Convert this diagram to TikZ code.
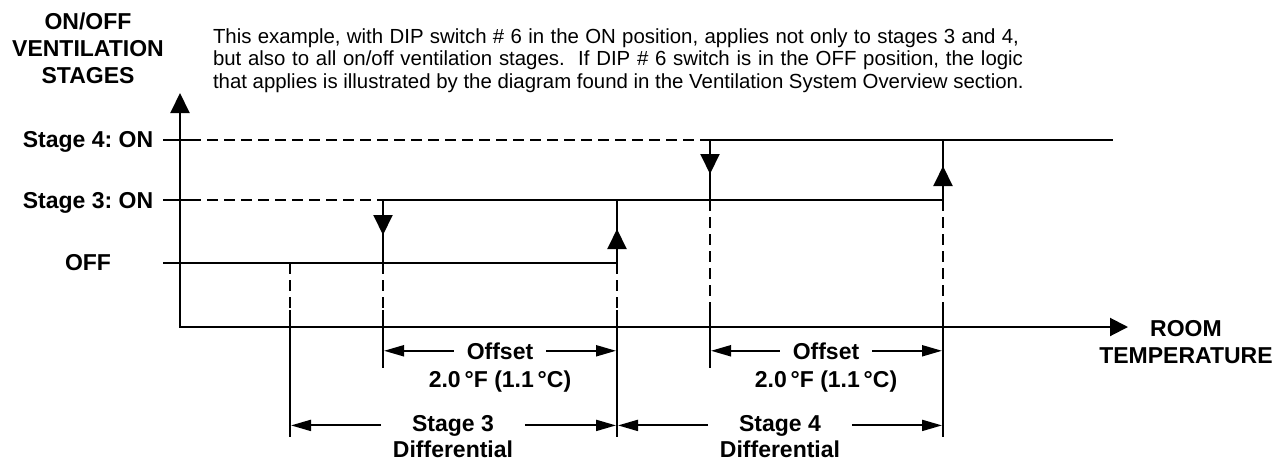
\documentclass[tikz,border=0pt]{standalone}
\usepackage{fontspec}
\setmainfont{Liberation Sans}
\usetikzlibrary{arrows.meta}
\frenchspacing
\begin{document}
\begin{tikzpicture}[x=1pt,y=-1pt,line width=2pt,
  lbl/.style={font=\fontsize{23}{27}\selectfont\bfseries,inner sep=0pt,anchor=base},
  body/.style={font=\fontsize{20.4}{22}\selectfont,inner sep=0pt,anchor=base west},
  dsh/.style={dash pattern=on 11pt off 6pt},
  solidline/.style={line cap=rect},
  bigtip/.style={-{Triangle[length=20pt,width=19pt]}},
  dimtip/.style={-{Triangle[length=20pt,width=11pt]}},
]
\useasboundingbox (0,0) rectangle (1287,461);

% key x positions
\coordinate (v290) at (290,0);
\coordinate (v383) at (383,0);
\coordinate (v617) at (617,0);
\coordinate (v710) at (710,0);
\coordinate (v943) at (943,0);

% header / body text
\node[lbl] (h1) at (88,29) {ON/OFF};
\node[lbl] (h2) at (88,56) {VENTILATION};
\node[lbl] (h3) at (88,83) {STAGES};

\node[body] (b1) at (212,43) {\makebox[806pt][s]{This example, with DIP switch \# 6 in the ON position, applies not only to stages 3 and 4,}};
\node[body] (b2) at (212,65.5) {\makebox[810pt][s]{but also to all on/off ventilation stages.\ \ If DIP \# 6 switch is in the OFF position, the logic}};
\node[body] (b3) at (212,88) {that applies is illustrated by the diagram found in the Ventilation System Overview section.};

% axes
\draw[{Triangle[length=20pt,width=19pt]}-{Triangle[length=18pt,width=18pt]}] (180,93) -- (180,327) -- (1128,327);
\node[lbl] (rt1) at (1186,336) {ROOM};
\node[lbl] (rt2) at (1186,363) {TEMPERATURE};

% stage labels
\node[lbl] (s4) at (88,147) {Stage 4: ON};
\node[lbl] (s3) at (88,208) {Stage 3: ON};
\node[lbl] (off) at (88,270) {OFF};

% horizontal levels
\draw (163,140) -- (190,140);
\draw[dsh] (190,140) -- (710,140);
\draw[solidline] (710,140) -- (1112,140);
\draw (163,200) -- (190,200);
\draw[dsh] (190,200) -- (383,200);
\draw[solidline] (383,200) -- (943,200);
\draw (163,263) -- (617,263);

% transitions
\draw[solidline] (383,200) -- (383,263);
\draw[bigtip] (383,212) -- (383,235);
\draw[solidline] (617,263) -- (617,200);
\draw[bigtip] (617,251) -- (617,229);
\draw[solidline] (710,140) -- (710,200);
\draw[bigtip] (710,152) -- (710,174);
\draw[solidline] (943,200) -- (943,140);
\draw[bigtip] (943,188) -- (943,166);

% extension lines
\draw[dsh] (290,263) -- (290,310);  \draw (290,310) -- (290,437);
\draw[dsh] (383,263) -- (383,310);  \draw (383,310) -- (383,368);
\draw[dsh] (617,263) -- (617,310);  \draw (617,310) -- (617,437);
\draw[dsh] (710,200) -- (710,310);  \draw (710,310) -- (710,368);
\draw[dsh] (943,200) -- (943,310);  \draw (943,310) -- (943,437);

% offset dimensions
\node[lbl] (o1) at (500,359) {Offset};
\node[lbl] (o1b) at (500,387) {2.0\,°F (1.1\,°C)};
\draw[dimtip] ([xshift=-12pt]o1.west) -- ([xshift=1pt]o1.west -| v383);
\draw[dimtip] ([xshift=12pt]o1.east) -- ([xshift=-1pt]o1.east -| v617);

\node[lbl] (o2) at (826,359) {Offset};
\node[lbl] (o2b) at (826,387) {2.0\,°F (1.1\,°C)};
\draw[dimtip] ([xshift=-12pt]o2.west) -- ([xshift=1pt]o2.west -| v710);
\draw[dimtip] ([xshift=12pt]o2.east) -- ([xshift=-1pt]o2.east -| v943);

% differentials
\node[lbl] (d3) at (453,431) {Stage 3};
\node[lbl] (d3b) at (453,457) {Differential};
\draw[dimtip] ([xshift=-30pt]d3.west) -- ([xshift=1pt]d3.west -| v290);
\draw[dimtip] ([xshift=30pt]d3.east) -- ([xshift=-1pt]d3.east -| v617);

\node[lbl] (d4) at (780,431) {Stage 4};
\node[lbl] (d4b) at (780,457) {Differential};
\draw[dimtip] ([xshift=-30pt]d4.west) -- ([xshift=1pt]d4.west -| v617);
\draw[dimtip] ([xshift=30pt]d4.east) -- ([xshift=-1pt]d4.east -| v943);
\end{tikzpicture}
\end{document}
